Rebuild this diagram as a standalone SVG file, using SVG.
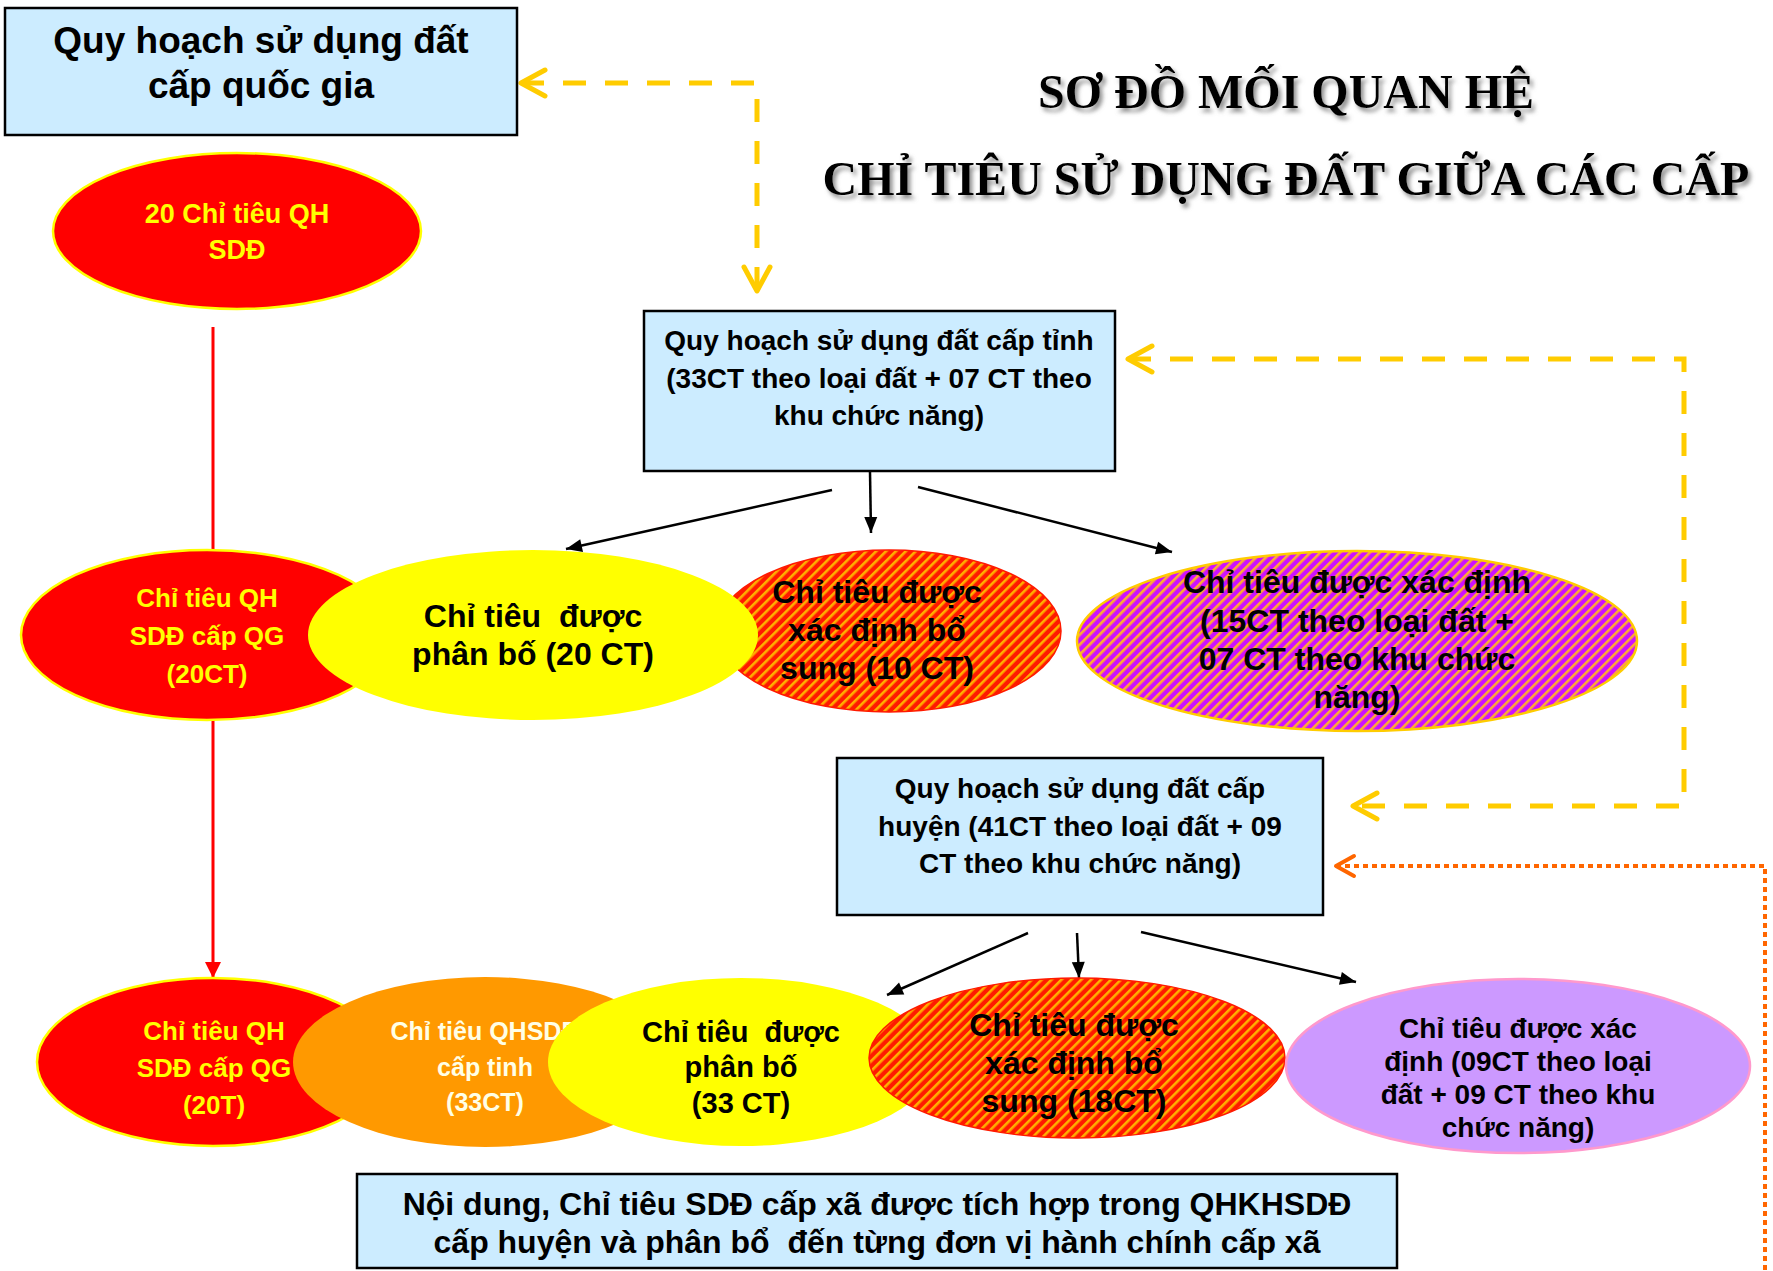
<svg xmlns="http://www.w3.org/2000/svg" width="1773" height="1271" viewBox="0 0 1773 1271">
<defs>
<style>
.box{fill:#CCECFF;stroke:#000;stroke-width:2.5}
.sans{font-family:"Liberation Sans",Arial,sans-serif;font-weight:bold;text-anchor:middle}
.yt{fill:#FFFF00}
.bt{fill:#000}
.wt{fill:#FFFFE6}
.title{font-family:"Liberation Serif","Times New Roman",serif;font-weight:bold;font-size:48px;text-anchor:middle;fill:#000}
.blk{stroke:#000;stroke-width:2.5;fill:none}
.ydash{stroke:#FFCC00;stroke-width:5;fill:none;stroke-dasharray:23 19}
.odot{stroke:#FF6600;stroke-width:4;fill:none;stroke-dasharray:5 4}
</style>
<pattern id="hatchRed" patternUnits="userSpaceOnUse" width="7" height="7" patternTransform="rotate(45)">
<rect width="7" height="7" fill="#FF1A00"/>
<rect x="0" width="2.6" height="7" fill="#FFB000"/>
</pattern>
<pattern id="hatchPurple" patternUnits="userSpaceOnUse" width="7" height="7" patternTransform="rotate(45)">
<rect width="7" height="7" fill="#CC11FF"/>
<rect x="0" width="2.6" height="7" fill="#FFAA33"/>
</pattern>
<marker id="arrBlack" markerUnits="userSpaceOnUse" viewBox="-17 -7 18 14" markerWidth="18" markerHeight="14" refX="0" refY="0" orient="auto">
<path d="M0,0 L-16,-6.5 L-16,6.5 Z" fill="#000"/>
</marker>
<marker id="arrRed" markerUnits="userSpaceOnUse" viewBox="-17 -9 18 18" markerWidth="18" markerHeight="18" refX="0" refY="0" orient="auto">
<path d="M0,0 L-16,-8 L-16,8 Z" fill="#FF0000"/>
</marker>
<marker id="chevY" markerUnits="userSpaceOnUse" viewBox="-30 -18 34 36" markerWidth="34" markerHeight="36" refX="0" refY="0" orient="auto-start-reverse">
<path d="M-24,-13 L0,0 L-24,13" fill="none" stroke="#FFCC00" stroke-width="5" stroke-linecap="round" stroke-linejoin="round"/>
</marker>
<marker id="chevO" markerUnits="userSpaceOnUse" viewBox="-24 -14 28 28" markerWidth="28" markerHeight="28" refX="0" refY="0" orient="auto-start-reverse">
<path d="M-18,-10 L0,0 L-18,10" fill="none" stroke="#FF6600" stroke-width="4" stroke-linecap="round" stroke-linejoin="round"/>
</marker>
<filter id="shadow" x="-5%" y="-30%" width="110%" height="160%">
<feDropShadow dx="3" dy="4" stdDeviation="2" flood-color="#777" flood-opacity="0.8"/>
</filter>
</defs>
<rect width="1773" height="1271" fill="#fff"/>

<g id="connectors">
<path class="ydash" d="M521,83 L757,83 L757,291" marker-start="url(#chevY)" marker-end="url(#chevY)"/>
<path class="ydash" d="M1128,359 L1684,359 L1684,806 L1353,806" marker-start="url(#chevY)" marker-end="url(#chevY)"/>
<path class="odot" d="M1336,866 L1765,866 L1765,1271" marker-start="url(#chevO)"/>
<line x1="213" y1="327" x2="213" y2="978" stroke="#FF0000" stroke-width="3" marker-end="url(#arrRed)"/>
<line class="blk" x1="832" y1="490" x2="566" y2="549" marker-end="url(#arrBlack)"/>
<line class="blk" x1="870" y1="472" x2="871" y2="533" marker-end="url(#arrBlack)"/>
<line class="blk" x1="918" y1="487" x2="1172" y2="552" marker-end="url(#arrBlack)"/>
<line class="blk" x1="1028" y1="933" x2="887" y2="995" marker-end="url(#arrBlack)"/>
<line class="blk" x1="1077" y1="933" x2="1079" y2="978" marker-end="url(#arrBlack)"/>
<line class="blk" x1="1141" y1="932" x2="1356" y2="982" marker-end="url(#arrBlack)"/>
</g>

<g id="title" filter="url(#shadow)">
<text class="title" x="1286" y="108">SƠ ĐỒ MỐI QUAN HỆ</text>
<text class="title" x="1286" y="195">CHỈ TIÊU SỬ DỤNG ĐẤT GIỮA CÁC CẤP</text>
</g>

<g id="node-qg">
<rect class="box" x="5" y="8" width="512" height="127"/>
<text class="sans bt" font-size="37" x="261" y="53">Quy hoạch sử dụng đất</text>
<text class="sans bt" font-size="37" x="261" y="98">cấp quốc gia</text>
</g>

<g id="node-20ct">
<ellipse cx="237" cy="231" rx="184" ry="78" fill="#FF0000" stroke="#FFFF00" stroke-width="2.5"/>
<text class="sans yt" font-size="27" x="237" y="223">20 Chỉ tiêu QH</text>
<text class="sans yt" font-size="27" x="237" y="259">SDĐ</text>
</g>

<g id="node-tinh">
<rect class="box" x="644" y="311" width="471" height="160"/>
<text class="sans bt" font-size="28" x="879" y="350">Quy hoạch sử dụng đất cấp tỉnh</text>
<text class="sans bt" font-size="28" x="879" y="388">(33CT theo loại đất + 07 CT theo</text>
<text class="sans bt" font-size="28" x="879" y="425">khu chức năng)</text>
</g>

<g id="node-r2-qg">
<ellipse cx="207" cy="635" rx="186" ry="85" fill="#FF0000" stroke="#FFFF00" stroke-width="2.5"/>
<text class="sans yt" font-size="26" x="207" y="607">Chỉ tiêu QH</text>
<text class="sans yt" font-size="26" x="207" y="645">SDĐ cấp QG</text>
<text class="sans yt" font-size="26" x="207" y="683">(20CT)</text>
</g>

<g id="node-r2-bosung">
<ellipse cx="889" cy="631" rx="172" ry="81" fill="url(#hatchRed)" stroke="#FF1A00" stroke-width="1.5"/>
<text class="sans bt" font-size="32" x="877" y="603">Chỉ tiêu được</text>
<text class="sans bt" font-size="32" x="877" y="641">xác định bổ</text>
<text class="sans bt" font-size="32" x="877" y="679">sung (10 CT)</text>
</g>

<g id="node-r2-phanbo">
<ellipse cx="533" cy="635" rx="225" ry="85" fill="#FFFF00"/>
<text class="sans bt" font-size="32" x="533" y="627" xml:space="preserve">Chỉ tiêu  được</text>
<text class="sans bt" font-size="32" x="533" y="665">phân bố (20 CT)</text>
</g>

<g id="node-r2-xacdinh">
<ellipse cx="1357" cy="641" rx="280" ry="90" fill="url(#hatchPurple)" stroke="#FFCC00" stroke-width="2.5"/>
<text class="sans bt" font-size="32" x="1357" y="593">Chỉ tiêu được xác định</text>
<text class="sans bt" font-size="32" x="1357" y="632">(15CT theo loại đất +</text>
<text class="sans bt" font-size="32" x="1357" y="670">07 CT theo khu chức</text>
<text class="sans bt" font-size="32" x="1357" y="708">năng)</text>
</g>

<g id="node-huyen">
<rect class="box" x="837" y="758" width="486" height="157"/>
<text class="sans bt" font-size="28" x="1080" y="798">Quy hoạch sử dụng đất cấp</text>
<text class="sans bt" font-size="28" x="1080" y="836">huyện (41CT theo loại đất + 09</text>
<text class="sans bt" font-size="28" x="1080" y="873">CT theo khu chức năng)</text>
</g>

<g id="node-r3-qg">
<ellipse cx="213" cy="1062" rx="176" ry="84" fill="#FF0000" stroke="#FFFF00" stroke-width="2.5"/>
<text class="sans yt" font-size="26" x="214" y="1040">Chỉ tiêu QH</text>
<text class="sans yt" font-size="26" x="214" y="1077">SDĐ cấp QG</text>
<text class="sans yt" font-size="26" x="214" y="1114">(20T)</text>
</g>

<g id="node-r3-tinh">
<ellipse cx="485" cy="1062" rx="192" ry="85" fill="#FF9900"/>
<text class="sans wt" font-size="25" x="485" y="1040">Chỉ tiêu QHSDĐ</text>
<text class="sans wt" font-size="25" x="485" y="1076">cấp tinh</text>
<text class="sans wt" font-size="25" x="485" y="1111">(33CT)</text>
</g>

<g id="node-r3-phanbo">
<ellipse cx="741" cy="1062" rx="193" ry="84" fill="#FFFF00"/>
<text class="sans bt" font-size="29" x="741" y="1042" xml:space="preserve">Chỉ tiêu  được</text>
<text class="sans bt" font-size="29" x="741" y="1077">phân bố</text>
<text class="sans bt" font-size="29" x="741" y="1113">(33 CT)</text>
</g>

<g id="node-r3-bosung">
<ellipse cx="1077" cy="1058" rx="208" ry="80" fill="url(#hatchRed)" stroke="#FF1A00" stroke-width="1.5"/>
<text class="sans bt" font-size="32" x="1074" y="1036">Chỉ tiêu được</text>
<text class="sans bt" font-size="32" x="1074" y="1074">xác định bổ</text>
<text class="sans bt" font-size="32" x="1074" y="1112">sung (18CT)</text>
</g>

<g id="node-r3-xacdinh">
<ellipse cx="1518" cy="1066" rx="232" ry="87" fill="#CC99FF" stroke="#FF99CC" stroke-width="2.5"/>
<text class="sans bt" font-size="28" x="1518" y="1038">Chỉ tiêu được xác</text>
<text class="sans bt" font-size="28" x="1518" y="1071">định (09CT theo loại</text>
<text class="sans bt" font-size="28" x="1518" y="1104">đất + 09 CT theo khu</text>
<text class="sans bt" font-size="28" x="1518" y="1137">chức năng)</text>
</g>

<g id="node-xa">
<rect class="box" x="357" y="1174" width="1040" height="94"/>
<text class="sans bt" font-size="32" x="877" y="1215">Nội dung, Chỉ tiêu SDĐ cấp xã được tích hợp trong QHKHSDĐ</text>
<text class="sans bt" font-size="32" x="877" y="1253" xml:space="preserve">cấp huyện và phân bổ  đến từng đơn vị hành chính cấp xã</text>
</g>
</svg>
